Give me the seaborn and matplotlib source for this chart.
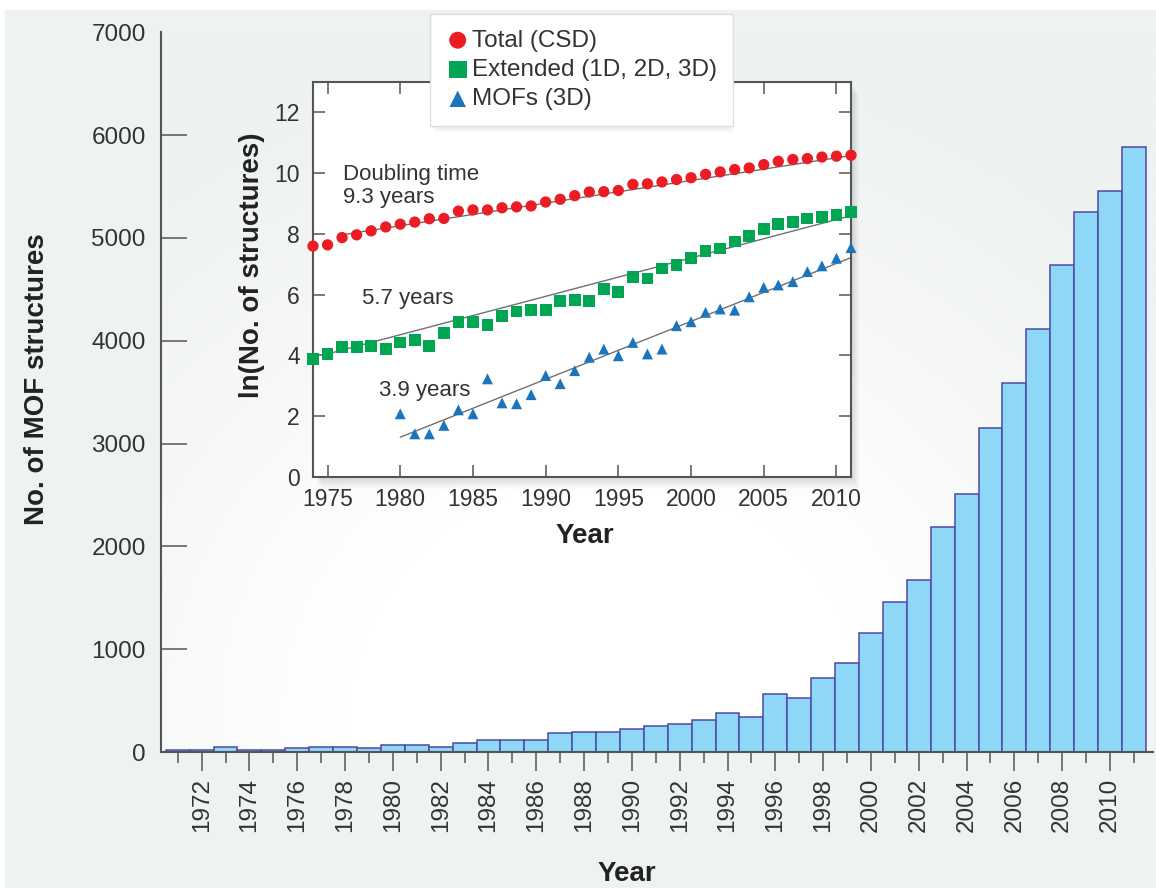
import numpy as np
import pandas as pd
import matplotlib
matplotlib.use("Agg")
import matplotlib.pyplot as plt
from matplotlib.patches import Rectangle
import matplotlib.colors as mcolors
import seaborn as sns

W, H = 1156, 888

# main histogram: number of MOF structures per year
years = list(range(1971, 2012))
mof_counts = [20, 20, 50, 20, 20, 35, 50, 50, 35, 65,
              65, 50, 85, 120, 121, 121, 180, 197, 197, 227,
              252, 272, 311, 376, 343, 561, 522, 716, 868, 1154,
              1461, 1672, 2190, 2508, 3147, 3590, 4119, 4735, 5253, 5457,
              5885]

# inset: ln(No. of structures)
ln_years = list(range(1974, 2012))
ln_total = [7.60, 7.64, 7.88, 7.97, 8.10, 8.23, 8.32, 8.39, 8.50, 8.51,
            8.75, 8.79, 8.79, 8.86, 8.89, 8.92, 9.05, 9.14, 9.26, 9.38,
            9.39, 9.43, 9.63, 9.65, 9.71, 9.79, 9.85, 9.96, 10.04, 10.12,
            10.17, 10.28, 10.39, 10.45, 10.48, 10.53, 10.56, 10.59]
ln_extended = [3.89, 4.05, 4.27, 4.29, 4.32, 4.21, 4.43, 4.51, 4.32, 4.73,
               5.09, 5.09, 5.01, 5.31, 5.45, 5.49, 5.49, 5.78, 5.82, 5.78,
               6.18, 6.10, 6.59, 6.53, 6.86, 6.97, 7.20, 7.44, 7.52, 7.75,
               7.93, 8.15, 8.32, 8.39, 8.51, 8.56, 8.62, 8.73]
mof_years = list(range(1980, 2012))
ln_mof3d = [2.08, 1.42, 1.42, 1.70, 2.21, 2.08, 3.23, 2.44, 2.41, 2.71,
            3.34, 3.07, 3.50, 3.94, 4.21, 3.99, 4.43, 4.05, 4.21, 4.98,
            5.11, 5.42, 5.53, 5.49, 5.93, 6.24, 6.32, 6.43, 6.76, 6.95,
            7.20, 7.55]

# fitted lines (end points)
fit_total_x, fit_total_y = [1976, 2011], [7.97, 10.58]
fit_ext_x, fit_ext_y = [1975, 2011], [4.05, 8.60]
fit_mof_x, fit_mof_y = [1980, 2011], [1.31, 7.22]

series_labels = ["Total (CSD)", "Extended (1D, 2D, 3D)", "MOFs (3D)"]

GREY_BG = "#eef2f1"
TXT = "#333333"
LBL = "#222222"
SPINE = "#555555"

sns.set_style("ticks")
plt.rcParams["font.family"] = ["Liberation Sans", "DejaVu Sans"]


def px_box(x0, y0, x1, y1):
    # pixel box (origin top-left) -> [left, bottom, width, height] in figure fraction
    return [x0 / W, 1 - y1 / H, (x1 - x0) / W, (y1 - y0) / H]


def soft_shadow(fig, x0, y0, x1, y1, depth=12, alpha=0.012, z=2):
    for k in range(1, depth + 1):
        l, b, w, h = px_box(x0 + k * 0.7, y0 + k, x1 + k * 0.7, y1 + k)
        fig.add_artist(Rectangle((l, b), w, h, transform=fig.transFigure,
                                 facecolor="black", edgecolor="none",
                                 alpha=alpha, zorder=z))


fig = plt.figure(figsize=(W / 100, H / 100), dpi=100, facecolor="white")
l, b, w, h = px_box(5, 10, W, H + 5)
fig.add_artist(Rectangle((l, b), w, h, transform=fig.transFigure,
                         color=GREY_BG, zorder=-10))

# ---- main axes ----
ax = fig.add_axes(px_box(161, 32.4, 1153, 752), zorder=0)
ax.set_facecolor("none")

# soft radial glow behind the bars
u, v = np.meshgrid(np.linspace(0, 1, 300), np.linspace(0, 1, 300))
d = np.sqrt(((u - 0.45) / 0.75) ** 2 + ((v - 0.05) / 0.95) ** 2)
t = np.clip((d - 0.35) / 0.6, 0, 1)
grey = np.array(mcolors.to_rgb(GREY_BG))
img = 1 - t[..., None] * (1 - grey)
ax.imshow(img, extent=(0, 1, 0, 1), origin="lower", transform=ax.transAxes,
          aspect="auto", zorder=0, interpolation="bilinear")

df_bars = pd.DataFrame({"year": years, "count": mof_counts})
sns.barplot(data=df_bars, x="year", y="count", native_scale=True, width=1.0,
            color="#8ed7f6", saturation=1, edgecolor="#4c4aa6", linewidth=1.1,
            errorbar=None, ax=ax, zorder=2)

ax.set_xlim(1970.3, 2011.8)
ax.set_ylim(0, 7000)
sns.despine(ax=ax)
for s in ["left", "bottom"]:
    ax.spines[s].set_color(SPINE)
    ax.spines[s].set_linewidth(1.5)
    ax.spines[s].set_zorder(3)

ax.set_yticks(range(0, 7001, 1000))
ax.tick_params(axis="y", direction="in", length=19, width=1.1, color=SPINE,
               pad=11, labelsize=17.5, labelcolor=TXT)
# the top of the axis carries only the 7000 label, no tick mark
ax.yaxis.get_major_ticks()[-1].tick1line.set_visible(False)
major_years = list(range(1972, 2011, 2))
ax.set_xticks(major_years, labels=[str(y) for y in major_years], rotation=90)
ax.set_xticks(list(range(1971, 2012, 2)), minor=True)
ax.tick_params(axis="x", which="major", direction="out", length=13.7, width=1.1,
               color=SPINE, pad=5, labelsize=17.5, labelcolor=TXT)
ax.tick_params(axis="x", which="minor", direction="out", length=8, width=1.1,
               color=SPINE)

ax.set_ylabel("No. of MOF structures", fontsize=20, fontweight="bold", color=LBL)
ax.yaxis.set_label_coords((37 - 161) / 992, (752 - 379) / 719.6)
ax.yaxis.label.set_va("center")
ax.set_xlabel("Year", fontsize=20, fontweight="bold", color=LBL)
ax.xaxis.set_label_coords((627 - 161) / 992, (752 - 881) / 719.6)
ax.xaxis.label.set_va("baseline")

# ---- inset ----
soft_shadow(fig, 313, 82, 851, 477, z=2)
ax_in = fig.add_axes(px_box(313, 82, 851, 477), zorder=3)
ax_in.set_facecolor("white")

for fx, fy in [(fit_total_x, fit_total_y), (fit_ext_x, fit_ext_y), (fit_mof_x, fit_mof_y)]:
    sns.lineplot(x=fx, y=fy, ax=ax_in, color="#707070", linewidth=1.0,
                 zorder=2, legend=False)

sns.scatterplot(x=ln_years, y=ln_total, ax=ax_in, marker="o", s=66,
                color="#ec1c24", edgecolor="none", linewidth=0, clip_on=False,
                zorder=4, label=series_labels[0], legend=False)
sns.scatterplot(x=ln_years, y=ln_extended, ax=ax_in, marker="s", s=72,
                color="#00a651", edgecolor="none", linewidth=0, clip_on=False,
                zorder=4, label=series_labels[1], legend=False)
sns.scatterplot(x=mof_years, y=ln_mof3d, ax=ax_in, marker="^", s=62,
                color="#1c75bc", edgecolor="none", linewidth=0, clip_on=False,
                zorder=4, label=series_labels[2], legend=False)

ax_in.set_xlim(1974, 2011)
ax_in.set_ylim(0, 13)
ax_in.set_xticks(range(1975, 2011, 5))
ax_in.set_yticks(range(0, 13, 2))
ax_in.tick_params(direction="in", top=True, right=True, length=8.5, width=1.1,
                  color=SPINE, labelsize=16.5, labelcolor=TXT)
ax_in.tick_params(axis="x", pad=8)
ax_in.tick_params(axis="y", pad=9.4)
for s in ax_in.spines.values():
    s.set_color(SPINE)
    s.set_linewidth(1.5)

ax_in.set_xlabel("Year", fontsize=20, fontweight="bold", color=LBL)
ax_in.xaxis.set_label_coords((585 - 313) / 538, (477 - 543) / 395)
ax_in.xaxis.label.set_va("baseline")
ax_in.set_ylabel("ln(No. of structures)", fontsize=20, fontweight="bold", color=LBL)
ax_in.yaxis.set_label_coords((252 - 313) / 538, (477 - 265) / 395)
ax_in.yaxis.label.set_va("center")

note_kw = dict(fontsize=16, color=TXT, va="baseline", ha="left")
ax_in.text(1976.03, 9.79, "Doubling time", **note_kw)
ax_in.text(1976.03, 9.03, "9.3 years", **note_kw)
ax_in.text(1977.4, 5.69, "5.7 years", **note_kw)
ax_in.text(1978.56, 2.68, "3.9 years", **note_kw)

# ---- legend ----
soft_shadow(fig, 430, 14, 728, 125, depth=8, alpha=0.01, z=4)
handles, labels = ax_in.get_legend_handles_labels()
leg = fig.legend(handles, labels, loc="upper left",
                 bbox_to_anchor=(430 / W, 1 - 14 / H), borderaxespad=0,
                 frameon=True, fancybox=False, framealpha=1, facecolor="white",
                 edgecolor="#dddddd", fontsize=17.5, handlelength=1.0,
                 handletextpad=0.1, borderpad=0.64, labelspacing=0.3,
                 markerscale=1.5)
for txt in leg.get_texts():
    txt.set_color(TXT)

fig.savefig("out.png", dpi=100)
